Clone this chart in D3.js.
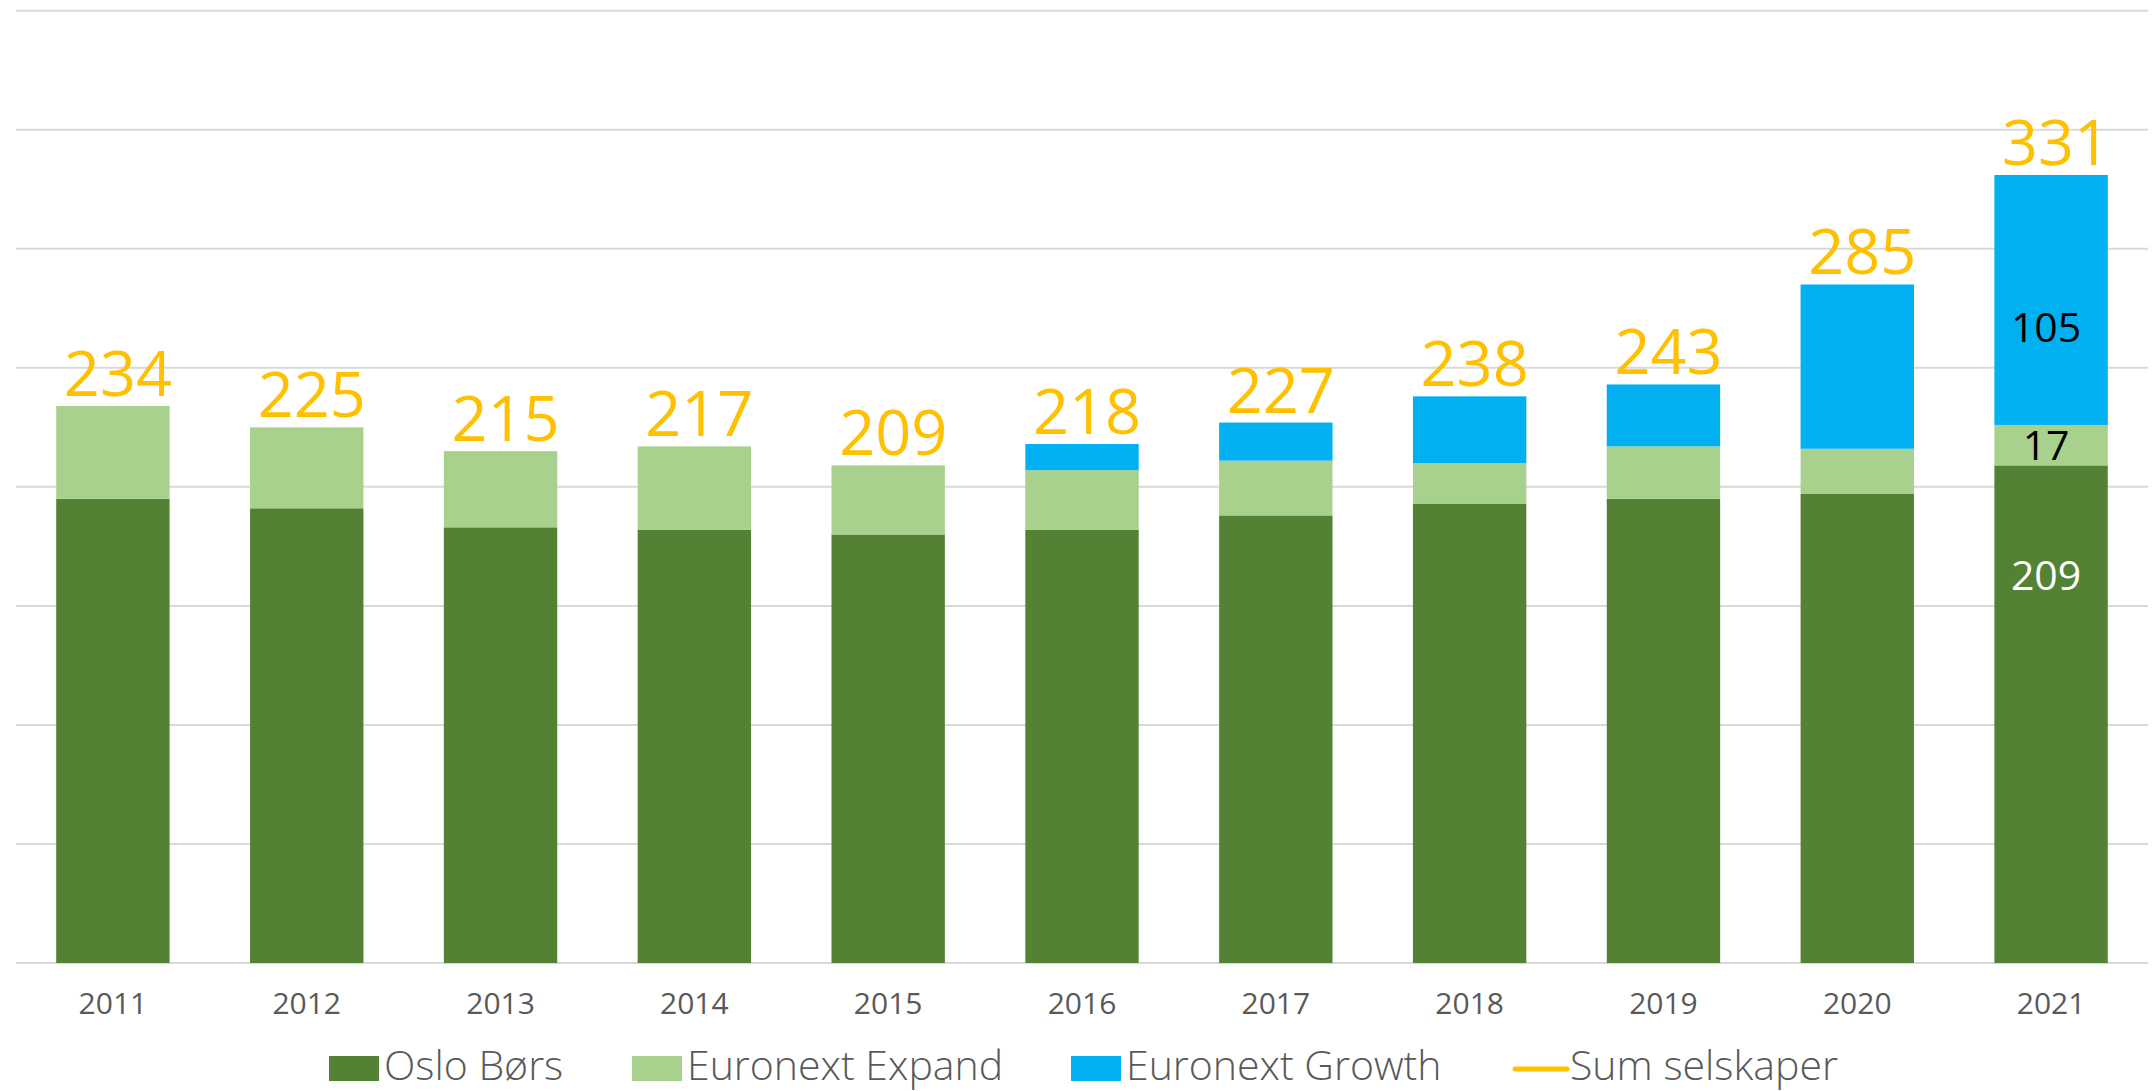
<!DOCTYPE html>
<html>
<head>
<meta charset="utf-8">
<script src="https://cdn.jsdelivr.net/npm/d3@7/dist/d3.min.js"></script>
<style>
  html, body { margin: 0; padding: 0; background: #ffffff; overflow: hidden; }
  svg { display: block; }
</style>
</head>
<body>
<svg id="chart" width="2153" height="1091"></svg>
<script>
// ---- Data ----
const years = ["2011","2012","2013","2014","2015","2016","2017","2018","2019","2020","2021"];
const osloBors       = [195, 191, 183, 182, 180, 182, 188, 193, 195, 197, 209];
const euronextExpand = [ 39,  34,  32,  35,  29,  25,  23,  17,  22,  19,  17];
const euronextGrowth = [  0,   0,   0,   0,   0,  11,  16,  28,  26,  69, 105];
const sumSelskaper   = [234, 225, 215, 217, 209, 218, 227, 238, 243, 285, 331];
const yTicks = [0, 50, 100, 150, 200, 250, 300, 350, 400];
const seriesNames = ["Oslo Børs", "Euronext Expand", "Euronext Growth", "Sum selskaper"];

// ---- Styles ----
const colors = {
  "Oslo Børs": "#548235",
  "Euronext Expand": "#A9D18E",
  "Euronext Growth": "#00B0F0",
  "Sum selskaper": "#FFC000"
};
const textGrey = "#595959";
const gridColor = "#d9d9d9";

const svg = d3.select("#chart");
const plotLeft = 16, plotRight = 2148, plotTop = 10.7, plotBottom = 963;

const x = d3.scaleBand().domain(years).range([plotLeft, plotRight]).paddingInner(0.415).paddingOuter(0.2075);
const y = d3.scaleLinear().domain([0, 400]).range([plotBottom, plotTop]);

// Gridlines
svg.append("g").selectAll("line").data(yTicks).join("line")
  .attr("x1", plotLeft).attr("x2", plotRight)
  .attr("y1", d => y(d)).attr("y2", d => y(d))
  .attr("stroke", gridColor).attr("stroke-width", 2);

// Stack
const table = years.map((yr, i) => ({
  year: yr,
  "Oslo Børs": osloBors[i],
  "Euronext Expand": euronextExpand[i],
  "Euronext Growth": euronextGrowth[i]
}));
const keys = seriesNames.slice(0, 3);
const stacked = d3.stack().keys(keys)(table);

svg.append("g").selectAll("g").data(stacked).join("g")
  .attr("fill", d => colors[d.key])
  .selectAll("rect").data(d => d.filter(s => s[1] - s[0] > 0)).join("rect")
  .attr("x", d => x(d.data.year))
  .attr("width", x.bandwidth())
  .attr("y", d => y(d[1]))
  .attr("height", d => y(d[0]) - y(d[1]));

// X axis
const xAxis = d3.axisBottom(x).tickSize(0).tickPadding(0);
const gx = svg.append("g").attr("transform", `translate(0, ${plotBottom})`).call(xAxis);
gx.select(".domain").remove();
gx.selectAll("text")
  .attr("dy", null)
  .attr("y", 51)
  .attr("font-family", "'Open Sans', sans-serif")
  .attr("font-size", 30)
  .attr("fill", textGrey);

// Sum labels (line itself invisible, labels only)
svg.append("g").selectAll("text").data(years).join("text")
  .attr("x", d => x(d) + x.bandwidth() / 2 + 5)
  .attr("y", (d, i) => y(sumSelskaper[i]) - 10)
  .attr("text-anchor", "middle")
  .attr("font-family", "'Open Sans', sans-serif")
  .attr("font-size", 63)
  .attr("fill", colors["Sum selskaper"])
  .text((d, i) => sumSelskaper[i]);

// Inner labels for the last year
const last = years.length - 1;
const innerLabelFrac = [0.78, 0.5, 0.39]; // position within the segment
const innerColors = ["#ffffff", "#000000", "#000000"];
stacked.forEach((s, k) => {
  const seg = s[last];
  const v = seg[0] + (seg[1] - seg[0]) * innerLabelFrac[k];
  svg.append("text")
    .attr("x", x(years[last]) + x.bandwidth() / 2 - 5)
    .attr("y", y(v))
    .attr("dy", "0.36em")
    .attr("text-anchor", "middle")
    .attr("font-family", "'Open Sans', sans-serif")
    .attr("font-size", 41)
    .attr("fill", innerColors[k])
    .text(seg[1] - seg[0]);
});

// Legend
const legendItems = [
  { name: seriesNames[0], x: 329, type: "rect" },
  { name: seriesNames[1], x: 632, type: "rect" },
  { name: seriesNames[2], x: 1071, type: "rect" },
  { name: seriesNames[3], x: 1515, type: "line" }
];
const lg = svg.append("g");
legendItems.forEach(it => {
  if (it.type === "rect") {
    lg.append("rect").attr("x", it.x).attr("y", 1056).attr("width", 50).attr("height", 25)
      .attr("fill", colors[it.name]);
  } else {
    lg.append("line").attr("x1", it.x).attr("x2", it.x + 52).attr("y1", 1069).attr("y2", 1069)
      .attr("stroke", colors[it.name]).attr("stroke-width", 5).attr("stroke-linecap", "round");
  }
  lg.append("text").attr("x", it.x + 55).attr("y", 1080)
    .attr("font-family", "'Open Sans', sans-serif")
    .attr("font-weight", 300)
    .attr("font-size", 41)
    .attr("fill", textGrey)
    .text(it.name);
});
</script>
</body>
</html>
